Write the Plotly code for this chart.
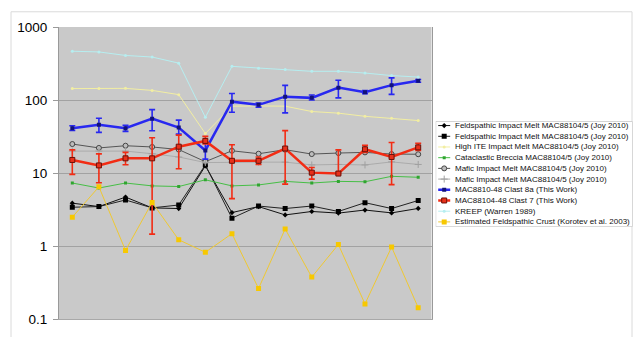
import plotly.graph_objects as go

W, H = 635, 337

# ---------------- data ----------------
categories = list(range(14))          # 14 unlabeled element positions
tick_values = [0.1, 1, 10, 100, 1000]
tick_labels = ["0.1", "1", "10", "100", "1000"]

series_names = [
    "Feldspathic Impact Melt MAC88104/5 (Joy 2010)",
    "Feldspathic Impact Melt MAC88104/5 (Joy 2010)",
    "High ITE Impact Melt MAC88104/5 (Joy 2010)",
    "Cataclastic Breccia MAC88104/5 (Joy 2010)",
    "Mafic Impact Melt MAC88104/5 (Joy 2010)",
    "Mafic Impact Melt MAC88104/5 (Joy 2010)",
    "MAC8810-48 Clast 8a (This Work)",
    "MAC88104-48 Clast 7 (This Work)",
    "KREEP (Warren 1989)",
    "Estimated Feldspathic Crust (Korotev et al. 2003)",
]

fim1 = [3.9, 3.5, 4.72, 3.36, 3.29, 12.6, 2.9, 3.5, 2.69, 3.0, 2.85, 3.14, 2.87, 3.3]
fim2 = [3.43, 3.5, 4.31, 3.36, 3.68, 13.0, 2.43, 3.56, 3.29, 3.56, 3.0, 3.96, 3.29, 4.24]
high_ite = [144, 144, 145, 136, 119, 34.9, 82.7, 83.4, 82.7, 69.9, 66.4, 60.1, 56.6, 52.6]
cataclastic = [7.35, 6.28, 7.35, 6.72, 6.58, 8.13, 6.72, 6.92, 7.74, 7.35, 7.74, 7.65, 9.08, 8.81]
mafic1 = [25.1, 22.2, 23.8, 22.9, 21.1, 14.4, 20.3, 18.5, 21.0, 18.3, 18.9, 19.3, 18.3, 18.2]
mafic2 = [20.1, 20.1, 20.1, 18.5, 16.7, 14.0, 14.2, 14.2, 14.2, 13.0, 13.2, 13.0, 14.3, 13.2]
clast8a = [41.4, 46.2, 41.4, 55.9, 42.2, 20.5, 95.3, 86.3, 111.7, 107.5, 148.4, 128.8, 160.4, 184.9]
clast8a_hi = [44.6, 56.6, 45.3, 74.2, 53.4, 26.3, 123.5, 91.4, 159.1, 117.8, 187.5, 135.6, 202, 192]
clast8a_lo = [38.4, 36.3, 37.4, 38.2, 34.3, 15.6, 68.5, 80.3, 67.0, 100.4, 107.5, 122.4, 120, 176]
clast7 = [15.2, 12.8, 16.0, 16.0, 23.1, 27.7, 14.8, 14.8, 21.8, 10.2, 9.9, 21.3, 16.7, 22.6]
clast7_hi = [20.9, 18.4, 19.3, 30.6, 33.2, 32.0, 24.5, 16.7, 38.3, 12.0, 20.9, 24.2, 26.3, 25.6]
clast7_lo = [9.64, 7.4, 13.1, 1.47, 11.5, 25.1, 4.5, 13.2, 7.1, 8.3, 9.9, 19.3, 7.0, 20.5]
kreep = [467, 457, 409, 389, 321, 58.3, 290, 274, 263, 248, 248, 235, 217, 207]
feld_crust = [2.51, 6.52, 0.88, 3.99, 1.23, 0.83, 1.49, 0.265, 1.73, 0.38, 1.06, 0.163, 0.98, 0.145]

series_values = [fim1, fim2, high_ite, cataclastic, mafic1, mafic2, clast8a, clast7, kreep, feld_crust]
series_hi = [None] * 6 + [clast8a_hi, clast7_hi, None, None]
series_lo = [None] * 6 + [clast8a_lo, clast7_lo, None, None]

# ---------------- styles ----------------
styles = [
    dict(lc="#111111", lw=1, sym="diamond", ms=4, mc="#000000", mlc="#000000", mlw=0),
    dict(lc="#222222", lw=1, sym="square", ms=5, mc="#000000", mlc="#000000", mlw=0),
    dict(lc="#F2EEA2", lw=1, sym="circle", ms=3, mc="#F2EEA2", mlc="#F2EEA2", mlw=0),
    dict(lc="#46BE46", lw=1, sym="square", ms=3, mc="#2FA52F", mlc="#2FA52F", mlw=0),
    dict(lc="#555555", lw=1, sym="circle", ms=5, mc="#BDBDBD", mlc="#444444", mlw=1),
    dict(lc="#ABABAB", lw=1, sym="cross-thin", ms=5, mc="#A0A0A0", mlc="#A0A0A0", mlw=1),
    dict(lc="#2828F0", lw=2.5, sym="square", ms=4, mc="#12127A", mlc="#12127A", mlw=0),
    dict(lc="#F22C14", lw=2.5, sym="square", ms=5, mc="#E8301A", mlc="#6A1008", mlw=1),
    dict(lc="#B6EEF0", lw=1, sym="circle", ms=3, mc="#B6EEF0", mlc="#B6EEF0", mlw=0),
    dict(lc="#EFC832", lw=1, sym="square", ms=5, mc="#F7C800", mlc="#F7C800", mlw=0),
]

FONT = "Liberation Sans, Arial, Helvetica, sans-serif"

fig = go.Figure()

# main series
for name, vals, hi, lo, st in zip(series_names, series_values, series_hi, series_lo, styles):
    kw = {}
    if hi is not None:
        kw["error_y"] = dict(
            type="data", symmetric=False,
            array=[h - v for h, v in zip(hi, vals)],
            arrayminus=[v - l for l, v in zip(lo, vals)],
            color=st["lc"], thickness=1.6, width=3,
        )
    fig.add_trace(go.Scatter(
        x=categories, y=vals, name=name, mode="lines+markers",
        line=dict(color=st["lc"], width=st["lw"]),
        marker=dict(symbol=st["sym"], size=st["ms"], color=st["mc"],
                    line=dict(color=st["mlc"], width=st["mlw"])),
        showlegend=False, xaxis="x", yaxis="y", **kw,
    ))

# custom compact legend drawn on a hidden helper axis pair (pixel units)
LEG_W, LEG_H = 196.8, 110.3
row0, row_step = 4.4, 11.2
for i, (name, st) in enumerate(zip(series_names, styles)):
    yy = row0 + row_step * i
    fig.add_trace(go.Scatter(
        x=[2.5, 8.5, 14.5], y=[yy, yy, yy], mode="lines+markers",
        line=dict(color=st["lc"], width=st["lw"]),
        marker=dict(symbol=st["sym"], size=st["ms"], color=st["mc"],
                    opacity=[0, 1, 0],
                    line=dict(color=st["mlc"], width=st["mlw"])),
        showlegend=False, hoverinfo="skip", xaxis="x2", yaxis="y2",
    ))
    fig.add_annotation(x=17, y=yy, xref="x2", yref="y2", text=name,
                       showarrow=False, xanchor="left", yanchor="middle",
                       font=dict(family=FONT, size=8, color="#111111"))

shapes = [
    # outer light frame
    dict(type="rect", xref="paper", yref="paper",
         x0=11 / W, x1=632 / W, y0=-0.2, y1=(H - 5) / H,
         line=dict(color="#DADADA", width=1), fillcolor="rgba(0,0,0,0)", layer="below"),
    # plot area background
    dict(type="rect", xref="x domain", yref="y domain", x0=0, x1=1, y0=0, y1=1,
         line=dict(width=0), fillcolor="#C9C9C9", layer="below"),
    # legend box
    dict(type="rect", xref="x2", yref="y2", x0=0, x1=LEG_W, y0=0, y1=LEG_H,
         line=dict(color="#BDBDBD", width=1), fillcolor="white", layer="below"),
]

fig.update_layout(
    width=W, height=H, autosize=False,
    margin=dict(l=0, r=0, t=0, b=0),
    paper_bgcolor="white", plot_bgcolor="rgba(0,0,0,0)",
    font=dict(family=FONT, color="black"),
    showlegend=False,
    shapes=shapes,
    xaxis=dict(domain=[59 / W, 431.5 / W], range=[-0.5, 13.5],
               showticklabels=False, showgrid=False, zeroline=False,
               showline=True, linecolor="#A8A8A8", linewidth=1, ticks="",
               fixedrange=True),
    yaxis=dict(domain=[(H - 327) / H, (H - 21) / H], type="log", range=[-1, 3],
               tickvals=tick_values, ticktext=tick_labels,
               tickfont=dict(family=FONT, size=13.5, color="black"),
               showgrid=True, gridcolor="#A2A2A2", gridwidth=1,
               showline=True, linecolor="#999999", linewidth=1, mirror=True,
               ticks="outside", ticklen=5, tickcolor="#9A9A9A",
               ticklabelstandoff=3,
               zeroline=False, fixedrange=True),
    xaxis2=dict(domain=[435.7 / W, 632.5 / W], range=[0, LEG_W], visible=False,
                anchor="y2", fixedrange=True),
    yaxis2=dict(domain=[(H - 230) / H, (H - 119.7) / H], range=[LEG_H, 0], visible=False,
                anchor="x2", fixedrange=True),
)

fig.write_html("out.html")
